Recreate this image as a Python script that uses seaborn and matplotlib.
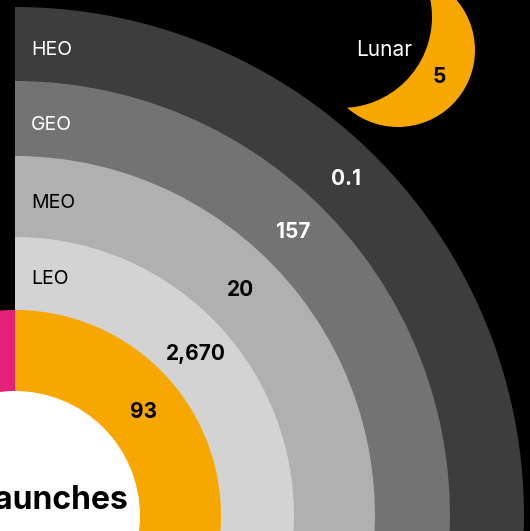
import numpy as np
import matplotlib
matplotlib.use("Agg")
import matplotlib.pyplot as plt
from matplotlib.patches import Wedge, Circle
import seaborn as sns

# Data
orbits = ["HEO", "GEO", "MEO", "LEO"]
orbit_values = ["0.1", "157", "20", "2,670"]
launch_label = "Launches"
launch_value = "93"
lunar_label = "Lunar"
lunar_value = "5"

# Styling
ring_colors = ["#3d3d3d", "#737373", "#b0b0b0", "#d3d3d3"]
name_colors = ["white", "white", "black", "black"]
value_colors = ["white", "white", "black", "black"]
orange = "#f7a800"
pink = "#e6217a"

sns.set_style("dark")
plt.rcParams["font.family"] = ["Inter", "DejaVu Sans"]

# geometry in pixels (y up), centre of the rings
cx, cy = 15, 15
outer_r = [509, 435, 360, 279]   # HEO .. LEO outer radius
launch_outer, launch_inner = 206, 125
label_angles = [45.5, 45.5, 45, 41.8]

fig = plt.figure(figsize=(5.30, 5.31), dpi=100)
ax = fig.add_axes([0, 0, 1, 1])
ax.set_xlim(0, 530)
ax.set_ylim(0, 531)
ax.set_facecolor("black")
fig.patch.set_facecolor("black")
ax.axis("off")

# lunar crescent
ax.add_patch(Circle((398, 481), 77, color=orange, zorder=1, lw=0))
ax.add_patch(Circle((341, 514), 91, color="black", zorder=2, lw=0))
ax.text(384, 481, lunar_label, color="white", fontsize=15, ha="center", va="center", zorder=5)
ax.text(439, 454, lunar_value, color="black", fontsize=15, fontweight="bold",
        ha="center", va="center", zorder=5)

# orbit rings, drawn as stacked pies (largest first) to avoid seams
inner_r = outer_r[1:] + [launch_outer]
for i, name in enumerate(orbits):
    ro, ri = outer_r[i], inner_r[i]
    ax.add_patch(Wedge((cx, cy), ro, -15, 90, color=ring_colors[i], lw=0, zorder=3 + i * 0.1))
    rm = (ro + ri) / 2
    ax.text(31, cy + rm - 6, name, color=name_colors[i], fontsize=14, ha="left", va="center", zorder=5)
    a = np.deg2rad(label_angles[i])
    ax.text(cx + rm * np.cos(a), cy + rm * np.sin(a), orbit_values[i], color=value_colors[i],
            fontsize=15, fontweight="bold", ha="center", va="center", zorder=5)

# launches ring
ax.add_patch(Wedge((cx, cy), launch_outer, -15, 90, color=orange, lw=0, zorder=4))
ax.add_patch(Wedge((cx, cy), launch_outer, 90, 200, color=pink, lw=0, zorder=4))
ax.add_patch(Circle((cx, cy), launch_inner, color="white", lw=0, zorder=4.1))
rm = (launch_outer + launch_inner) / 2
a = np.deg2rad(38.9)
ax.text(cx + rm * np.cos(a), cy + rm * np.sin(a), launch_value, color="black",
        fontsize=15, fontweight="bold", ha="center", va="center", zorder=5)
ax.text(129, 22, launch_label, color="black", fontsize=23, fontweight="bold",
        ha="right", va="baseline", zorder=5)

fig.savefig("out.png", dpi=100, facecolor="black")
